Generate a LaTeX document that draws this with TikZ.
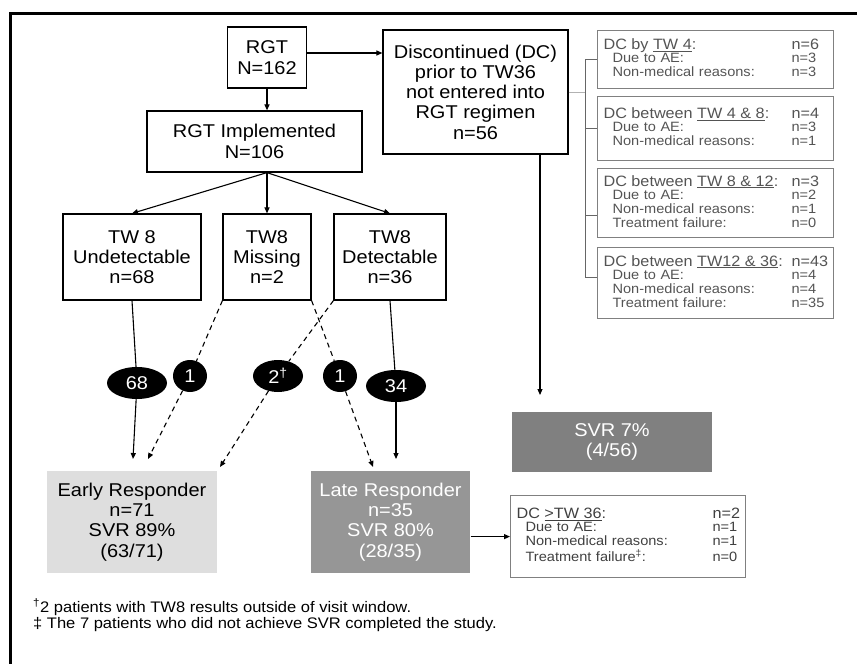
\documentclass[tikz,border=0pt]{standalone}
\usepackage{fontspec}
\setmainfont[FakeStretch=1.08]{Liberation Sans}
\usepackage{tikz}
\usetikzlibrary{arrows.meta,shapes}

\definecolor{erfill}{gray}{0.87}
\definecolor{lrfill}{gray}{0.59}
\definecolor{svrfill}{gray}{0.5}
\definecolor{dcline}{gray}{0.5}
\definecolor{dctext}{gray}{0.33}

\newcommand{\bigtxt}{\fontsize{18.5}{20.3}\selectfont}
\newcommand{\dchead}{\fontsize{15}{15}\selectfont}
\newcommand{\dcitem}{\fontsize{13.5}{13.4}\selectfont}
\newcommand{\notetxt}{\fontsize{15.3}{16}\selectfont}

\begin{document}
\begin{tikzpicture}[x=1pt,y=-1pt,>={Triangle[length=6pt,width=5pt]},
	flow/.style={draw,line width=1.2pt,font=\bigtxt,align=center,inner sep=0pt},
	result/.style={flow,draw=none},
	count/.style={ellipse,fill=black,text=white,font=\bigtxt,inner sep=0pt,minimum height=32pt},
	dcbox/.style={draw=dcline,line width=1.2pt,text=dctext,anchor=north west,inner xsep=6pt,inner ysep=0pt,align=left,font=\dcitem}]
		\useasboundingbox (0,0) rectangle (857,664);
		\draw[line width=3pt] (10,664) -- (10,13) -- (857,13);
		%
		\node[flow,minimum width=79pt,minimum height=61pt] (rgt) at (267,57.5) {RGT\\N=162};
		\node[flow,minimum width=185pt,minimum height=124pt] (dc) at (475.5,92) {Discontinued (DC)\\prior to TW36\\not entered into\\RGT regimen\\n=56};
		\node[flow,minimum width=215pt,minimum height=61pt] (impl) at (254.5,141.5) {RGT Implemented\\N=106};
		\node[flow,minimum width=138pt,minimum height=86pt] (undet) at (132,257) {TW 8\\Undetectable\\n=68};
		\node[flow,minimum width=88pt,minimum height=86pt] (miss) at (267,257) {TW8\\Missing\\n=2};
		\node[flow,minimum width=112pt,minimum height=86pt] (detec) at (390,257) {TW8\\Detectable\\n=36};
		% responders and SVR
		\node[result,fill=erfill,minimum width=170pt,minimum height=102pt] (early) at (132,522) {Early Responder\\n=71\\SVR 89\%\\(63/71)};
		\node[result,fill=lrfill,text=white,minimum width=159pt,minimum height=102pt] (late) at (390.5,522) {Late Responder\\n=35\\SVR 80\%\\(28/35)};
		\node[result,fill=svrfill,text=white,minimum width=200pt,minimum height=60pt] (svr) at (612,442) {SVR 7\%\\(4/56)};
		% discontinuation boxes
		\node[dcbox,text width=224pt,minimum height=58pt] (dc1) at (597,30) {%
			\begin{tabular}{@{}p{188pt}@{}l@{}}
				{\dchead DC by \underline{TW 4}:} & {\dchead n=6}\\
				\hspace*{9pt}Due to AE: & n=3\\
				\hspace*{9pt}Non-medical reasons: & n=3
			\end{tabular}};
		\node[dcbox,text width=224pt,minimum height=64pt] (dc2) at (597,96) {%
			\begin{tabular}{@{}p{188pt}@{}l@{}}
				{\dchead DC between \underline{TW 4 \& 8}:} & {\dchead n=4}\\
				\hspace*{9pt}Due to AE: & n=3\\
				\hspace*{9pt}Non-medical reasons: & n=1
			\end{tabular}};
		\node[dcbox,text width=224pt,minimum height=69pt] (dc3) at (597,168) {%
			\begin{tabular}{@{}p{188pt}@{}l@{}}
				{\dchead DC between \underline{TW 8 \& 12}:} & {\dchead n=3}\\
				\hspace*{9pt}Due to AE: & n=2\\
				\hspace*{9pt}Non-medical reasons: & n=1\\
				\hspace*{9pt}Treatment failure: & n=0
			\end{tabular}};
		\node[dcbox,text width=224pt,minimum height=71pt] (dc4) at (597,247) {%
			\begin{tabular}{@{}p{188pt}@{}l@{}}
				{\dchead DC between \underline{TW12 \& 36}:} & {\dchead n=43}\\
				\hspace*{9pt}Due to AE: & n=4\\
				\hspace*{9pt}Non-medical reasons: & n=4\\
				\hspace*{9pt}Treatment failure: & n=35
			\end{tabular}};
		\node[dcbox,text=black!75,text width=223pt,minimum height=82pt] (dc36) at (510,495) {%
			\begin{tabular}{@{}p{196pt}@{}l@{}}
				{\dchead DC \underline{>TW 36}:} & {\dchead n=2}\\
				\hspace*{9pt}Due to AE: & n=1\\
				\hspace*{9pt}Non-medical reasons: & n=1\\
				\hspace*{9pt}Treatment failure\textsuperscript{‡}: & n=0
			\end{tabular}};
		% counts on the paths
		\node[count,minimum width=60pt] (c68) at (137,383) {68};
		\node[count,minimum width=34pt] (c1a) at (190,376) {1};
		\node[count,minimum width=50pt] (c2) at (278,376) {2\textsuperscript{†}};
		\node[count,minimum width=34pt] (c1b) at (340,376) {1};
		\node[count,minimum width=60pt] (c34) at (396,386) {34};
		%
		\coordinate (fork) at (rgt.south |- impl.south);
		\coordinate (erA) at (133,459);
		\coordinate (erB) at (148,459);
		\coordinate (erC) at (220,467);
		\coordinate (lrA) at (373,467);
		\coordinate (lrB) at (396,459);
		\coordinate (svrin) at (540,395);
		\coordinate (brk) at (585,92);
		%
		\path[->,line width=1.1pt]
		% top of the chart
		([yshift=4.5pt]rgt.east) edge ([yshift=4.5pt]rgt.east -| dc.west)
		(rgt.south) edge (rgt.south |- impl.north)
		(fork) edge (undet.north)
		(fork) edge (miss.north)
		(fork) edge (detec.north)
		(dc.south -| svrin) edge (svrin)
		(late.east |- dc36.west) edge (dc36.west)
		% solid paths to responders
		(c68) edge (erA)
		(c34) edge (lrB);
		\draw[line width=1.1pt] (undet.south) -- (c68) (detec.south) -- (c34);
		% dashed paths
		\path[line width=1.1pt,dash pattern=on 5pt off 4pt]
		(miss.south west) edge (c1a)
		(c1a) edge[->] (erB)
		(detec.south west) edge (c2)
		(c2) edge[->] (erC)
		(miss.south east) edge (c1b)
		(c1b) edge[->] (lrA);
		% bracket to the DC boxes
		\draw[gray!60,line width=1pt] (dc.east) -- (brk);
		\draw[dcline!80!black,line width=1pt]
		(brk |- dc1.west) -- ([yshift=5.5pt]dc4.west -| brk)
		(brk |- dc1.west) -- (dc1.west)
		(brk |- dc2.west) -- (dc2.west)
		([yshift=-12.5pt]dc3.west -| brk) -- ([yshift=-12.5pt]dc3.west)
		([yshift=5.5pt]dc4.west -| brk) -- ([yshift=5.5pt]dc4.west);
		% footnotes
		\node[anchor=base west,inner sep=0pt,font=\notetxt] (note1) at (33,612) {\textsuperscript{†}2 patients with TW8 results outside of visit window.};
		\node[anchor=base west,inner sep=0pt,font=\notetxt] (note2) at (33,628) {‡ The 7 patients who did not achieve SVR completed the study.};
\end{tikzpicture}
\end{document}
